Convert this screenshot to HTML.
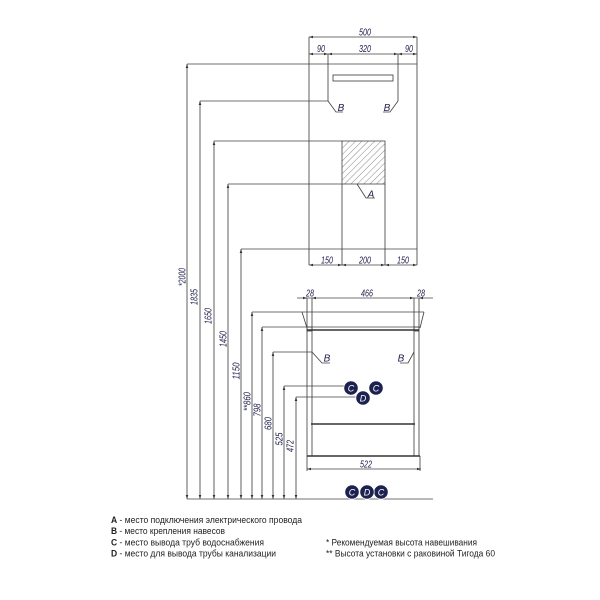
<!DOCTYPE html>
<html><head><meta charset="utf-8"><style>
html,body{margin:0;padding:0;background:#fff}
svg{display:block}
.d{font-family:"Liberation Sans",sans-serif;font-style:italic;font-size:10px;fill:#23234f}
.lg{font-family:"Liberation Sans","Noto Sans CJK SC",sans-serif;font-size:8.8px;fill:#1e1e1e}
.c{font-family:"Liberation Sans",sans-serif;font-style:italic;font-size:9px;fill:#fff}
</style></head><body>
<svg width="600" height="600" viewBox="0 0 600 600" xmlns="http://www.w3.org/2000/svg">
<defs>
<pattern id="h" patternUnits="userSpaceOnUse" width="4.5" height="4.5" patternTransform="rotate(45)">
<line x1="0" y1="0" x2="0" y2="4.5" stroke="#555" stroke-width="0.7"/>
</pattern>
</defs>
<rect width="600" height="600" fill="#fff"/>

<rect x="342" y="141" width="43" height="43" fill="url(#h)" stroke="#444" stroke-width="0.8"/>

<g fill="none" stroke="#444" stroke-width="0.85">
<path d="M309 37V265M417 37V265M187 64H417M309 37H417M309 54H417"/>
<path d="M328 54V101L336 112H343M398 54V101L390 112H383"/>
<path d="M200 101H328"/>
<rect x="333" y="75" width="60" height="6"/>
<path d="M214 141H342M228 184H342M342 184V265M385 184V265"/>
<path d="M357 184L366 198H375"/>
<path d="M241 249H417M309 265H417"/>
<path d="M297 298H433"/>
<path d="M307 298V456M312 298V456M414 298V456M419 298V456"/>
<path d="M252 312H424M302 312L307 328M424 312L420 328"/>
<path d="M262 327H420"/>
<rect x="307" y="327" width="5" height="4"/>
<rect x="414" y="327" width="5" height="4"/>
<path d="M273 352H312M312 352L322 363H330M414 352L408 363H400"/>
<path d="M284 386H344M296 397H356"/>
<path d="M307 456V471M420 456V471M307 469H421"/>
<path d="M187 499H433"/>
<path d="M187 64V499M200 101V499M214 141V499M228 184V499M241 249V499M252 312V499M262 327V499M273 352V499M284 386V499M296 397V499"/>
</g>
<g fill="none" stroke="#333" stroke-width="1.4">
<path d="M307 330H419M311 424H415M307 456H420"/>
</g>

<g fill="#333">
<polygon points="187,64 185.7,68 188.3,68"/><polygon points="200,101 198.7,105 201.3,105"/>
<polygon points="214,141 212.7,145 215.3,145"/><polygon points="228,184 226.7,188 229.3,188"/>
<polygon points="241,249 239.7,253 242.3,253"/><polygon points="252,312 250.7,316 253.3,316"/>
<polygon points="262,327 260.7,331 263.3,331"/><polygon points="273,352 271.7,356 274.3,356"/>
<polygon points="284,386 282.7,390 285.3,390"/><polygon points="296,397 294.7,401 297.3,401"/>
<polygon points="187,499 185.7,495 188.3,495"/><polygon points="200,499 198.7,495 201.3,495"/>
<polygon points="214,499 212.7,495 215.3,495"/><polygon points="228,499 226.7,495 229.3,495"/>
<polygon points="241,499 239.7,495 242.3,495"/><polygon points="252,499 250.7,495 253.3,495"/>
<polygon points="262,499 260.7,495 263.3,495"/><polygon points="273,499 271.7,495 274.3,495"/>
<polygon points="284,499 282.7,495 285.3,495"/><polygon points="296,499 294.7,495 297.3,495"/>
<polygon points="309,37 313,35.7 313,38.3"/><polygon points="417,37 413,35.7 413,38.3"/>
<polygon points="309,54 313,52.7 313,55.3"/><polygon points="328,54 324,52.7 324,55.3"/>
<polygon points="328,54 332,52.7 332,55.3"/><polygon points="398,54 394,52.7 394,55.3"/>
<polygon points="398,54 402,52.7 402,55.3"/><polygon points="417,54 413,52.7 413,55.3"/>
<polygon points="309,265 313,263.7 313,266.3"/><polygon points="342,265 338,263.7 338,266.3"/>
<polygon points="342,265 346,263.7 346,266.3"/><polygon points="385,265 381,263.7 381,266.3"/>
<polygon points="385,265 389,263.7 389,266.3"/><polygon points="417,265 413,263.7 413,266.3"/>
<polygon points="307,298 303,296.7 303,299.3"/><polygon points="312,298 316,296.7 316,299.3"/>
<polygon points="414,298 410,296.7 410,299.3"/><polygon points="419,298 423,296.7 423,299.3"/>
<polygon points="307,469 311,467.7 311,470.3"/><polygon points="421,469 417,467.7 417,470.3"/>
</g>

<g class="d" text-anchor="middle">
<text x="365" y="35.5" textLength="12" lengthAdjust="spacingAndGlyphs">500</text>
<text x="321" y="52" textLength="8" lengthAdjust="spacingAndGlyphs">90</text>
<text x="365" y="52" textLength="12" lengthAdjust="spacingAndGlyphs">320</text>
<text x="409" y="52" textLength="8" lengthAdjust="spacingAndGlyphs">90</text>
<text x="341" y="111">B</text>
<text x="387" y="111">B</text>
<text x="371" y="197.5">A</text>
<text x="327" y="263.5" textLength="12" lengthAdjust="spacingAndGlyphs">150</text>
<text x="365" y="263.5" textLength="12" lengthAdjust="spacingAndGlyphs">200</text>
<text x="403" y="263.5" textLength="12" lengthAdjust="spacingAndGlyphs">150</text>
<text x="310" y="296.5" textLength="8" lengthAdjust="spacingAndGlyphs">28</text>
<text x="367" y="296.5" textLength="12" lengthAdjust="spacingAndGlyphs">466</text>
<text x="421" y="296.5" textLength="8" lengthAdjust="spacingAndGlyphs">28</text>
<text x="327" y="361.5">B</text>
<text x="401" y="361.5">B</text>
<text x="366" y="467.5" textLength="12" lengthAdjust="spacingAndGlyphs">522</text>
</g>

<g class="d" text-anchor="middle">
<text transform="translate(185.5,277) rotate(-90)" textLength="18" lengthAdjust="spacingAndGlyphs">*2000</text>
<text transform="translate(197.5,297) rotate(-90)" textLength="16" lengthAdjust="spacingAndGlyphs">1835</text>
<text transform="translate(211.5,316) rotate(-90)" textLength="16" lengthAdjust="spacingAndGlyphs">1650</text>
<text transform="translate(226.5,339) rotate(-90)" textLength="16" lengthAdjust="spacingAndGlyphs">1450</text>
<text transform="translate(239.5,371) rotate(-90)" textLength="17" lengthAdjust="spacingAndGlyphs">1150</text>
<text transform="translate(250.5,401.5) rotate(-90)" textLength="19" lengthAdjust="spacingAndGlyphs">**860</text>
<text transform="translate(260.5,410) rotate(-90)" textLength="13" lengthAdjust="spacingAndGlyphs">798</text>
<text transform="translate(271.5,423.5) rotate(-90)" textLength="13" lengthAdjust="spacingAndGlyphs">680</text>
<text transform="translate(282.5,439) rotate(-90)" textLength="13" lengthAdjust="spacingAndGlyphs">525</text>
<text transform="translate(293.5,446) rotate(-90)" textLength="12" lengthAdjust="spacingAndGlyphs">472</text>
</g>

<g fill="#1c2150" stroke="#fff" stroke-width="0.8">
<circle cx="351" cy="388" r="7.2"/>
<circle cx="376" cy="388" r="7.2"/>
<circle cx="363" cy="398" r="7.2"/>
<circle cx="352" cy="492" r="7.2"/>
<circle cx="381" cy="492" r="7.2"/>
<circle cx="367" cy="492" r="7.2"/>
</g>
<g class="c" text-anchor="middle">
<text x="351" y="391.3">C</text>
<text x="376" y="391.3">C</text>
<text x="363" y="401.3">D</text>
<text x="352" y="495.3">C</text>
<text x="367" y="495.3">D</text>
<text x="381" y="495.3">C</text>
</g>

<g class="lg">
<text x="111" y="522.8" textLength="191" lengthAdjust="spacingAndGlyphs"><tspan font-weight="bold">A</tspan> - место подключения электрического провода</text>
<text x="111" y="534" textLength="114" lengthAdjust="spacingAndGlyphs"><tspan font-weight="bold">B</tspan> - место крепления навесов</text>
<text x="111" y="545.3" textLength="153" lengthAdjust="spacingAndGlyphs"><tspan font-weight="bold">C</tspan> - место вывода труб водоснабжения</text>
<text x="111" y="556.3" textLength="165" lengthAdjust="spacingAndGlyphs"><tspan font-weight="bold">D</tspan> - место для вывода трубы канализации</text>
<text x="326" y="545.3" textLength="151" lengthAdjust="spacingAndGlyphs">* Рекомендуемая высота навешивания</text>
<text x="326" y="556.3" textLength="169" lengthAdjust="spacingAndGlyphs">** Высота установки с раковиной Тигода 60</text>
</g>
</svg>
</body></html>
